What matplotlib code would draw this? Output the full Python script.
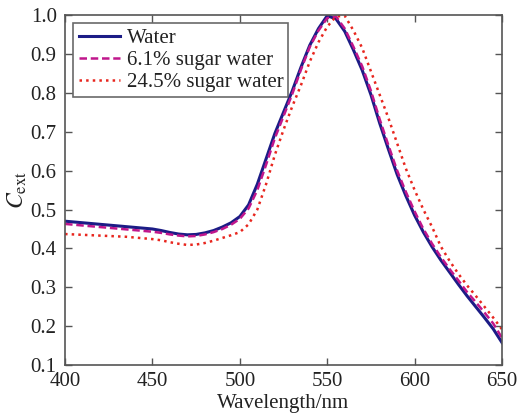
import numpy as np
import matplotlib
matplotlib.use('Agg')
import matplotlib.pyplot as plt

plt.rcParams['font.family'] = 'Liberation Serif'
plt.rcParams['mathtext.fontset'] = 'stix'

# wavelength grid (nm)
wavelength = np.arange(400, 651, 5)

# extinction, pure water
c_water = [0.470, 0.468, 0.466, 0.464, 0.462, 0.460, 0.458, 0.456, 0.454, 0.452,
           0.450, 0.446, 0.441, 0.437, 0.435, 0.436, 0.440, 0.446, 0.455, 0.466,
           0.482, 0.512, 0.565, 0.630, 0.695, 0.750, 0.805, 0.866, 0.922, 0.965,
           0.998, 0.990, 0.958, 0.910, 0.858, 0.795, 0.722, 0.655, 0.590, 0.535,
           0.485, 0.442, 0.404, 0.370, 0.339, 0.308, 0.278, 0.250, 0.222, 0.193,
           0.158]
# 6.1% sugar water
c_sugar6 = [0.463, 0.461, 0.459, 0.457, 0.455, 0.453, 0.451, 0.449, 0.447, 0.445,
            0.443, 0.440, 0.436, 0.433, 0.431, 0.432, 0.436, 0.442, 0.450, 0.461,
            0.476, 0.503, 0.550, 0.615, 0.683, 0.740, 0.797, 0.860, 0.918, 0.960,
            0.992, 0.996, 0.965, 0.918, 0.868, 0.805, 0.732, 0.665, 0.600, 0.545,
            0.495, 0.450, 0.412, 0.378, 0.347, 0.318, 0.288, 0.262, 0.235, 0.207,
            0.170]
# 24.5% sugar water
c_sugar24 = [0.437, 0.436, 0.435, 0.434, 0.433, 0.432, 0.431, 0.430, 0.428, 0.426,
             0.424, 0.421, 0.416, 0.412, 0.409, 0.410, 0.414, 0.420, 0.427, 0.434,
             0.442, 0.462, 0.500, 0.565, 0.640, 0.705, 0.765, 0.820, 0.880, 0.930,
             0.970, 0.996, 0.998, 0.960, 0.915, 0.855, 0.795, 0.735, 0.670, 0.605,
             0.550, 0.500, 0.455, 0.405, 0.368, 0.335, 0.305, 0.278, 0.250, 0.222,
             0.192]

labels = ['Water', '6.1% sugar water', '24.5% sugar water']

fig = plt.figure(figsize=(5.29, 4.15), dpi=100)
ax = fig.add_axes([0.123, 0.120, 0.826, 0.844])

ax.plot(wavelength, c_water, color='#1c1c86', lw=2.2, ls='-', label=labels[0])
ax.plot(wavelength, c_sugar6, color='#c0168c', lw=1.8, ls='--', dashes=(3, 1.5), label=labels[1])
ax.plot(wavelength, c_sugar24, color='#e8261e', lw=1.8, ls=':', label=labels[2])

ax.set_xlim(400, 650)
ax.set_ylim(0.1, 1.0)
ax.set_xticks(np.arange(400, 651, 50))
ax.set_yticks(np.arange(0.1, 1.01, 0.1))
ax.set_yticklabels(['%.1f' % v for v in np.arange(0.1, 1.01, 0.1)])
ax.tick_params(direction='in', top=True, right=True, length=5, width=1,
               color='#555555', labelsize=15, labelcolor='#222222')
ax.tick_params(axis='x', pad=5)
ax.tick_params(axis='y', pad=6)
for sp in ax.spines.values():
    sp.set_color('#555555')
    sp.set_linewidth(1.2)

ax.set_xlabel('Wavelength/nm', fontsize=15, color='#222222', labelpad=2)
ax.set_ylabel(r'$C_{\mathrm{ext}}$', fontsize=17, color='#222222', labelpad=1)

leg = ax.legend(loc='upper left', fontsize=15, frameon=True, fancybox=False,
                handlelength=2.0, handletextpad=0.3, borderpad=0.25,
                labelspacing=0.12, borderaxespad=0.4)
leg.get_frame().set_edgecolor('#444444')
leg.get_frame().set_linewidth(1.2)
for t in leg.get_texts():
    t.set_color('#222222')

fig.savefig('out.png', dpi=100)
